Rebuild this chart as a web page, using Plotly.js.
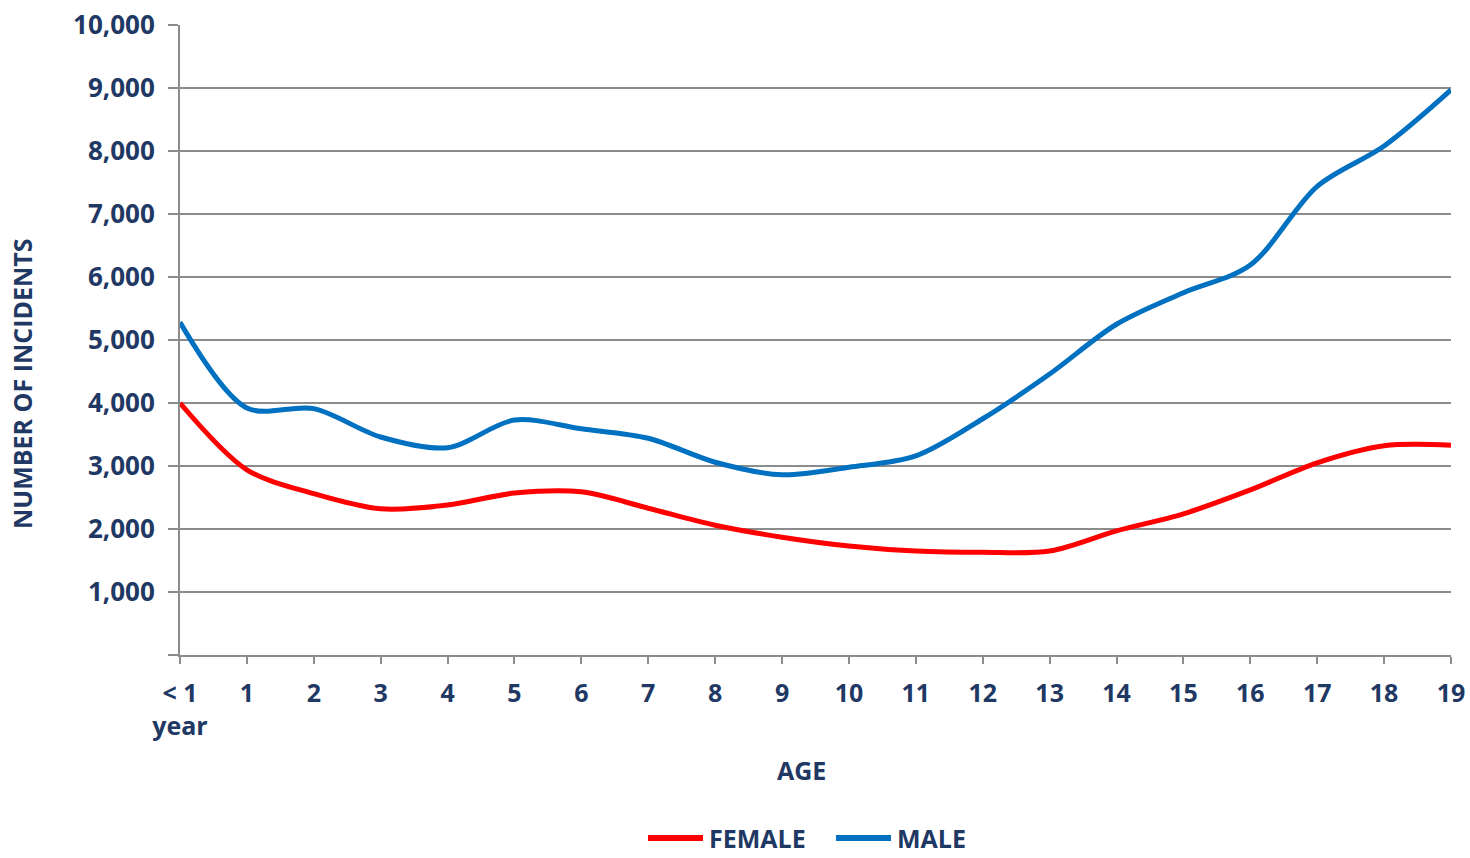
<!DOCTYPE html>
<html>
<head>
<meta charset="utf-8">
<script src="https://cdn.plot.ly/plotly-3.0.1.min.js"></script>
<style>
html,body{margin:0;padding:0;background:#fff;}
#chart{width:1470px;height:858px;}
</style>
</head>
<body>
<div id="chart"></div>
<script>
var ages = [0,1,2,3,4,5,6,7,8,9,10,11,12,13,14,15,16,17,18,19];
var ageLabels = ["< 1<br>year","1","2","3","4","5","6","7","8","9","10","11","12","13","14","15","16","17","18","19"];
var female = [4000,2940,2560,2320,2380,2570,2590,2330,2060,1870,1730,1650,1630,1650,1970,2240,2620,3050,3320,3330];
var male = [5280,3920,3910,3460,3290,3730,3590,3440,3060,2860,2980,3160,3750,4460,5250,5750,6190,7440,8080,8970];
var yTicks = [0,1000,2000,3000,4000,5000,6000,7000,8000,9000,10000];
var yTickText = ["","1,000","2,000","3,000","4,000","5,000","6,000","7,000","8,000","9,000","10,000"];
var seriesNames = ["FEMALE","MALE"];
var seriesColors = ["#ff0000","#0070c0"];
var xTitle = "AGE";
var yTitle = "NUMBER OF INCIDENTS";

var navy = "#1f3864";
var fontFam = "'Open Sans', Lato, sans-serif";

var traces = [
  {x: ages, y: female, name: seriesNames[0], type: "scatter", mode: "lines", showlegend: false,
   line: {color: seriesColors[0], width: 5, shape: "spline", smoothing: 0.9}},
  {x: ages, y: male, name: seriesNames[1], type: "scatter", mode: "lines", showlegend: false,
   line: {color: seriesColors[1], width: 5, shape: "spline", smoothing: 0.9}}
];

// custom legend and titles (paper coordinates; plot area spans x 180..1451 px, y 25..655 px)
var legY = -0.2905;
var legLineX0 = [0.3682, 0.5161];
var legLineX1 = [0.4115, 0.5594];
var legTextX = [0.4147, 0.5626];
var shapes = [], annotations = [];
for (var i = 0; i < seriesNames.length; i++) {
  shapes.push({type: "line", xref: "paper", yref: "paper", x0: legLineX0[i], x1: legLineX1[i], y0: legY, y1: legY,
               line: {color: seriesColors[i], width: 6}});
  annotations.push({xref: "paper", yref: "paper", x: legTextX[i], y: legY, xanchor: "left", yanchor: "middle",
                    showarrow: false, text: seriesNames[i],
                    font: {family: fontFam, size: 25, color: navy, weight: "bold"}});
}
annotations.push({xref: "paper", yref: "paper", x: 0.4886, y: -0.1825, xanchor: "center", yanchor: "middle",
                  showarrow: false, text: xTitle, font: {family: fontFam, size: 25, color: navy, weight: "bold"}});
annotations.push({xref: "paper", yref: "paper", x: -0.1243, y: 0.4302, xanchor: "center", yanchor: "middle",
                  textangle: -90, showarrow: false, text: yTitle,
                  font: {family: fontFam, size: 25, color: navy, weight: "bold"}});

var layout = {
  width: 1470, height: 858,
  margin: {l: 180, r: 19, t: 25, b: 203, autoexpand: false},
  paper_bgcolor: "#fff", plot_bgcolor: "#fff",
  font: {family: fontFam, color: navy, size: 22, weight: "bold"},
  showlegend: false,
  shapes: shapes,
  annotations: annotations,
  xaxis: {
    range: [0, 19], tickmode: "array", tickvals: ages, ticktext: ageLabels,
    showgrid: false, zeroline: false, showline: true, linecolor: "#8c8c8c", linewidth: 2,
    ticks: "outside", ticklen: 7, tickwidth: 2, tickcolor: "#8c8c8c",
    ticklabelstandoff: 8, automargin: false,
    tickfont: {family: fontFam, size: 25, color: navy, weight: "bold"},
    fixedrange: true
  },
  yaxis: {
    range: [0, 10000], tickmode: "array", tickvals: yTicks, ticktext: yTickText,
    showgrid: true, gridcolor: "#8c8c8c", gridwidth: 2,
    zeroline: false, showline: true, linecolor: "#8c8c8c", linewidth: 2,
    ticks: "outside", ticklen: 10, tickwidth: 2, tickcolor: "#8c8c8c",
    ticklabelstandoff: 8, automargin: false,
    tickfont: {family: fontFam, size: 26, color: navy, weight: "bold"},
    fixedrange: true
  }
};

Plotly.newPlot("chart", traces, layout, {displayModeBar: false, staticPlot: true});
</script>
</body>
</html>
